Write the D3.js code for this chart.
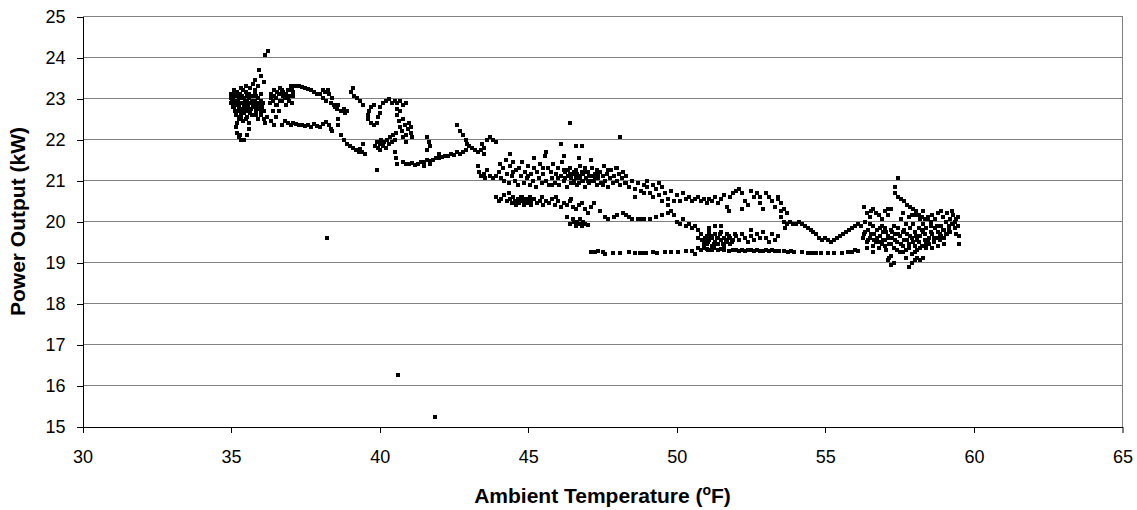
<!DOCTYPE html>
<html><head><meta charset="utf-8">
<script src="https://cdn.jsdelivr.net/npm/d3@7"></script>
<style>body{margin:0;background:#fff;} text{font-family:"Liberation Sans",Arial,sans-serif;}</style>
</head><body><svg id="c" width="1137" height="510"></svg>
<script>
const xTickValues=[30,35,40,45,50,55,60,65];
const yTickValues=[15,16,17,18,19,20,21,22,23,24,25];
const xTitle="Ambient Temperature (";
const yTitle="Power Output (kW)";

const clusterA=[[35.0,23.0],[35.0,22.9],[35.05,23.1],[35.1,22.8],[35.1,23.05],[35.15,22.95],[35.2,23.15],[35.2,22.85],[35.25,23.0],[35.3,22.7],[35.3,23.1],[35.35,22.9],[35.4,23.2],[35.4,22.75],[35.45,23.0],[35.5,22.85],[35.5,23.15],[35.55,22.95],[35.6,23.1],[35.6,22.7],[35.65,22.9],[35.7,23.05],[35.7,22.6],[35.75,22.8],[35.8,22.95],[35.8,23.2],[35.85,22.7],[35.9,22.9],[35.9,22.5],[35.95,22.75],[36.0,22.95],[36.0,22.6],[36.05,22.8],[35.15,22.6],[35.2,22.7],[35.05,22.8],[35.3,22.55],[35.45,22.65],[35.55,22.55],[35.0,23.1],[35.1,23.2],[35.35,23.25],[35.5,23.3],[35.65,23.25],[35.75,23.35],[35.85,23.05],[36.1,22.7],[36.1,22.5],[36.15,22.4],[36.2,22.55]];
const clusterAExtra=[[35.02,22.95],[35.08,23.0],[35.12,22.9],[35.18,23.05],[35.22,22.95],[35.28,22.85],[35.32,23.0],[35.38,23.05],[35.42,22.9],[35.48,22.95],[35.52,23.05],[35.58,22.8],[35.62,23.0],[35.68,22.75],[35.72,22.95],[35.78,22.85],[35.82,23.1],[35.88,22.8],[35.92,23.0],[35.98,22.85],[36.02,23.1],[36.08,22.9],[35.25,22.75],[35.45,22.8],[35.65,22.65],[35.85,22.6],[36.0,22.7],[35.12,22.7],[35.35,22.65],[35.55,22.7]];
const loopA=[[35.2,22.4],[35.25,22.5],[35.35,22.55],[35.5,22.5],[35.6,22.4],[35.6,22.25],[35.55,22.1],[35.45,22.0],[35.35,22.0],[35.25,22.05],[35.2,22.15],[35.15,22.3],[35.4,22.45],[35.3,22.1]];
const risingA=[[35.9,23.3],[36.0,23.55],[35.95,23.7],[36.1,23.4],[36.15,24.05],[36.25,24.15],[35.8,23.45]];
const clusterB=[[36.3,22.9],[36.35,23.1],[36.4,22.95],[36.45,23.2],[36.5,23.0],[36.55,22.85],[36.6,23.1],[36.65,23.25],[36.7,22.95],[36.75,23.15],[36.8,23.0],[36.85,22.85],[36.9,23.2],[36.95,23.05],[37.0,23.3],[37.05,22.9],[37.1,23.15],[37.15,23.3],[36.4,22.7],[36.5,22.55],[36.35,22.45],[36.6,22.7],[36.45,22.35],[36.35,23.0],[36.45,23.05],[36.55,23.15],[36.65,22.95],[36.75,23.05],[36.85,23.1],[36.95,22.95],[37.05,23.2],[36.5,22.85],[36.7,23.2],[36.9,23.0],[37.1,23.05]];
const upperBand=[[37.2,23.3],[37.3,23.3],[37.4,23.28],[37.5,23.25],[37.6,23.22],[37.7,23.2],[37.8,23.15],[37.9,23.1],[38.0,23.1],[38.1,23.0],[38.15,23.15],[38.2,22.95],[38.3,23.1],[38.35,22.9],[38.4,23.0],[38.45,22.85],[38.5,22.8],[38.55,22.75],[38.6,22.85],[38.7,22.7],[38.8,22.75],[38.85,22.65],[38.9,22.7],[38.25,23.2],[38.1,23.2]];
const lowerBand=[[36.7,22.35],[36.8,22.45],[36.9,22.4],[37.0,22.35],[37.1,22.4],[37.2,22.38],[37.3,22.35],[37.4,22.35],[37.5,22.32],[37.6,22.35],[37.7,22.3],[37.8,22.38],[37.9,22.33],[38.0,22.3],[38.1,22.38],[38.2,22.42],[38.3,22.35],[38.35,22.25],[38.4,22.2],[38.6,22.5],[38.6,22.35]];
const tailB=[[38.7,22.1],[38.8,22.0],[38.9,21.9],[39.0,21.85],[39.1,21.8],[39.2,21.75],[39.3,21.7],[39.4,21.7],[39.5,21.65],[39.35,21.78],[39.45,21.9]];
const clusterC=[[39.05,23.15],[39.1,23.25],[39.15,23.05],[39.25,23.0],[39.35,22.95],[39.45,22.85],[39.6,22.5],[39.65,22.7],[39.7,22.8],[39.8,22.85],[39.7,22.4],[39.8,22.35],[39.9,22.4],[39.95,22.55],[40.0,22.65],[39.6,22.6],[40.0,22.8],[40.1,22.9],[40.2,22.95],[40.3,22.98],[40.4,22.9],[40.5,22.95],[40.6,22.9],[40.7,22.95],[40.8,22.85],[40.9,22.9],[40.6,22.75],[40.7,22.7]];
const verticalC=[[40.6,22.6],[40.65,22.45],[40.7,22.3],[40.75,22.2],[40.8,22.5],[40.85,22.35],[40.9,22.1],[40.95,22.25],[41.0,22.4],[41.05,22.15],[41.1,22.05],[40.8,22.05],[40.9,21.95],[41.05,22.3]];
const clusterD=[[39.85,21.85],[39.9,21.95],[39.95,21.8],[40.0,21.9],[40.05,22.0],[40.1,21.85],[40.15,21.95],[40.2,21.8],[40.25,22.0],[40.3,21.9],[40.35,22.05],[40.4,21.95],[40.45,22.1],[40.5,22.0],[40.55,22.15],[40.0,21.75],[39.9,21.25],[40.5,21.7],[40.55,21.55],[40.6,21.4]];
const tailD=[[40.8,21.45],[40.9,21.4],[41.0,21.4],[41.1,21.42],[41.2,21.38],[41.3,21.4],[41.4,21.45],[41.5,21.45],[41.6,21.5],[41.7,21.48],[41.8,21.5],[41.9,21.55],[42.0,21.55],[42.1,21.58],[42.2,21.6],[42.3,21.6],[42.4,21.65],[42.5,21.62],[42.6,21.7],[42.7,21.65],[42.8,21.7],[42.9,21.75],[41.5,21.35],[41.7,21.4],[42.0,21.65],[41.6,22.05],[41.65,21.95],[41.7,21.85],[41.6,21.75]];
const clusterE=[[42.6,22.35],[42.7,22.2],[42.8,22.1],[42.9,22.0],[42.95,21.9],[43.0,21.85],[43.1,21.8],[43.2,21.75],[43.3,21.7],[43.4,21.75],[43.5,21.65],[43.6,22.0],[43.7,22.05],[43.8,22.0],[43.9,21.95],[43.45,21.9],[43.5,21.8],[43.3,21.35],[43.35,21.2],[43.4,21.1],[43.5,21.15],[43.6,21.25],[43.7,21.1],[43.8,21.05],[43.9,21.1],[43.55,21.05]];
const middleBand=[[44.0,21.2],[44.05,21.4],[44.1,21.05],[44.15,21.3],[44.2,21.0],[44.25,21.5],[44.3,21.15],[44.35,20.95],[44.4,21.35],[44.45,21.1],[44.5,21.45],[44.55,21.0],[44.6,21.25],[44.65,20.9],[44.7,21.3],[44.75,21.1],[44.8,21.45],[44.85,20.95],[44.9,21.2],[44.95,21.05],[45.0,21.35],[45.05,20.9],[45.1,21.15],[45.15,21.0],[45.2,21.3],[45.25,20.85],[45.3,21.2],[45.35,21.05],[45.4,21.4],[45.45,20.95],[45.5,21.15],[45.55,21.6],[45.6,21.0],[45.65,21.3],[45.7,20.9],[45.75,21.2],[45.8,21.05],[45.85,21.4],[45.9,20.95],[45.95,21.15],[46.0,21.3],[46.05,20.9],[46.1,21.1],[46.15,21.45],[46.2,21.0],[46.25,21.2],[46.3,20.85],[46.35,21.1],[46.4,21.3],[46.45,20.95],[46.5,21.15],[46.55,21.0],[46.6,21.25],[46.65,20.9],[46.7,21.1],[46.75,21.35],[46.8,21.0],[46.85,21.15],[46.9,20.85],[46.95,21.05],[47.0,21.2],[47.05,20.95],[47.1,21.1],[47.15,21.3],[47.2,21.0],[47.25,21.15],[47.3,20.9],[47.35,21.05],[47.4,21.2],[47.45,20.95],[47.5,21.1],[47.55,21.35],[47.6,21.0],[47.65,21.15],[47.7,20.85],[47.75,21.05],[47.8,21.25],[47.85,20.95],[47.9,21.1],[47.95,21.3],[48.0,21.0],[48.05,21.15],[48.1,20.9],[48.15,21.05],[48.2,21.2],[48.25,20.95],[48.3,21.1],[44.5,21.2],[45.0,21.1],[45.5,21.3],[46.0,21.05],[46.5,20.95],[46.6,21.05],[46.7,20.95],[47.0,21.0],[47.5,20.9],[46.2,21.25],[46.8,21.2],[47.3,21.25],[45.8,20.9],[46.4,21.15],[46.9,21.3],[47.7,21.25]];
const middleExtra=[[46.45,21.05],[46.55,21.2],[46.65,21.15],[46.75,21.05],[46.85,21.0],[46.95,21.2],[47.05,21.1],[47.15,21.0],[47.25,21.05],[47.35,21.15],[46.35,21.25],[46.25,21.05],[44.6,20.5],[44.7,20.55],[44.8,20.6],[44.9,20.45],[45.0,20.55],[45.1,20.5]];
const aboveMiddle=[[44.4,21.65],[45.2,21.55],[45.6,21.7],[46.1,21.9],[46.4,22.4],[46.6,21.85],[46.8,21.85],[46.2,21.6],[46.7,21.55],[48.1,22.05],[47.1,21.5],[48.0,21.3]];
const lowerMiddle=[[43.9,20.6],[44.0,20.5],[44.1,20.55],[44.2,20.65],[44.3,20.5],[44.35,20.7],[44.4,20.55],[44.45,20.45],[44.5,20.6],[44.55,20.5],[44.6,20.4],[44.65,20.55],[44.7,20.45],[44.75,20.6],[44.8,20.5],[44.85,20.4],[44.9,20.55],[44.95,20.45],[45.0,20.5],[45.1,20.4],[45.2,20.55],[45.3,20.45],[45.4,20.5],[45.5,20.4],[45.6,20.5],[45.7,20.45],[45.8,20.55],[45.9,20.4],[46.0,20.5],[46.1,20.35],[46.2,20.45],[46.3,20.4],[46.4,20.5],[46.5,20.35],[46.6,20.3],[46.7,20.4],[46.8,20.45],[46.9,20.3],[45.05,20.6],[45.45,20.6],[45.95,20.6],[46.45,20.55]];
const clusterF=[[46.3,20.1],[46.4,19.95],[46.5,20.05],[46.6,19.9],[46.65,20.0],[46.7,19.95],[46.75,20.05],[46.8,19.9],[46.85,20.0],[46.9,19.95],[47.0,19.92],[46.55,20.0]];
const lowerArc=[[47.0,20.2],[47.1,20.35],[47.2,20.45],[47.4,20.25],[47.6,20.1],[47.7,20.05],[47.9,20.1],[48.0,20.15],[48.2,20.2],[48.3,20.15],[48.4,20.1],[48.5,20.05],[48.7,20.05],[48.8,20.05],[48.9,20.05],[49.1,20.05],[49.3,20.1],[49.5,20.15],[49.7,20.2],[49.8,20.25]];
const upperG=[[48.3,20.95],[48.4,20.85],[48.5,21.0],[48.6,20.8],[48.7,20.95],[48.8,20.75],[48.9,20.9],[49.0,20.85],[49.1,20.7],[49.2,20.9],[49.3,20.8],[49.4,20.65],[49.5,20.85],[49.6,20.7],[49.7,20.55],[49.8,20.75],[49.9,20.5],[48.6,20.6],[48.9,20.7],[49.2,20.6],[49.5,20.5],[49.7,20.4],[49.0,21.0],[49.4,20.95]];
const bandH=[[50.0,20.65],[50.1,20.5],[50.2,20.7],[50.3,20.55],[50.4,20.6],[50.5,20.5],[50.6,20.55],[50.7,20.6],[50.8,20.5],[50.9,20.55],[51.0,20.45],[51.1,20.55],[51.2,20.5],[51.3,20.6],[51.4,20.45],[51.5,20.55],[51.6,20.65],[51.7,20.35],[51.75,20.25],[51.8,20.6],[51.9,20.7],[52.0,20.75],[52.1,20.8],[52.2,20.7],[52.3,20.5],[52.4,20.4],[52.5,20.75],[52.6,20.6],[52.7,20.7],[52.8,20.45],[52.9,20.3],[53.0,20.7],[53.1,20.6],[53.2,20.5],[53.3,20.35],[53.4,20.55],[53.5,20.25],[52.2,20.3],[52.8,20.6],[53.5,20.45],[53.6,20.3],[53.7,20.2],[53.4,20.6]];
const bandI=[[49.9,20.15],[50.0,20.0],[50.1,19.95],[50.2,20.05],[50.3,19.9],[50.4,19.95],[50.5,19.85],[50.6,19.9],[50.7,19.8]];
const clusterJ=[[50.7,19.6],[50.8,19.7],[50.9,19.5],[51.0,19.65],[51.0,19.45],[51.1,19.55],[51.1,19.75],[51.2,19.4],[51.2,19.6],[51.3,19.5],[51.3,19.7],[51.4,19.45],[51.4,19.6],[51.5,19.55],[51.5,19.75],[51.6,19.4],[51.6,19.6],[51.7,19.5],[51.7,19.7],[51.8,19.45],[51.8,19.6],[51.9,19.55],[51.1,19.85],[51.3,19.9],[51.5,19.9],[51.2,19.3],[50.9,19.35],[51.05,19.3],[52.0,19.65],[52.1,19.55],[52.2,19.7],[52.3,19.6],[52.4,19.5],[52.5,19.65],[52.6,19.55],[52.7,19.7],[52.8,19.6],[52.9,19.75],[53.0,19.6],[53.1,19.5],[53.2,19.7],[53.3,19.55],[53.4,19.65],[52.5,19.8],[50.95,19.6],[51.15,19.65],[51.25,19.45],[51.35,19.6],[51.45,19.7],[51.55,19.45],[51.65,19.55],[51.75,19.65],[51.85,19.5],[51.05,19.5],[50.85,19.55],[51.95,19.7]];
const bottomLine=[[47.1,19.25],[47.25,19.25],[47.35,19.27],[47.5,19.25],[47.6,19.2],[47.85,19.22],[48.1,19.22],[48.4,19.25],[48.6,19.22],[48.75,19.24],[48.85,19.24],[48.95,19.24],[49.2,19.25],[49.35,19.22],[49.6,19.25],[49.8,19.25],[50.05,19.25],[50.3,19.27],[50.5,19.28],[50.6,19.2],[50.7,19.35],[50.8,19.3],[50.9,19.4],[51.0,19.32],[51.1,19.3],[51.25,19.35],[51.4,19.3],[51.5,19.32],[51.6,19.3],[51.75,19.28],[51.9,19.3],[52.0,19.3],[52.1,19.28],[52.2,19.3],[52.3,19.28],[52.4,19.3],[52.5,19.3],[52.6,19.28],[52.7,19.3],[52.8,19.28],[52.9,19.28],[53.0,19.3],[53.1,19.28],[53.2,19.3],[53.3,19.27],[53.45,19.27],[53.6,19.28],[53.75,19.25],[53.85,19.27],[53.95,19.25],[54.2,19.25],[54.4,19.22],[54.55,19.22],[54.7,19.22],[54.85,19.22],[55.1,19.22],[55.3,19.22],[55.55,19.22],[55.75,19.25],[55.9,19.25],[56.0,19.3],[56.1,19.28]];
const descK=[[53.6,20.0],[53.7,19.95],[53.8,20.0],[53.9,19.95],[54.0,19.95],[54.1,20.0],[54.2,19.95],[54.3,19.9],[54.4,19.85],[54.5,19.8],[54.6,19.75],[54.7,19.7],[54.8,19.6],[54.9,19.55],[55.0,19.6],[55.1,19.55],[55.2,19.5],[55.3,19.55],[55.4,19.6],[55.5,19.65],[53.5,20.1],[53.65,19.85],[55.6,19.7],[55.7,19.75],[55.8,19.8],[55.9,19.85],[56.0,19.9],[56.1,19.95]];
const topL=[[57.45,21.05],[57.35,20.85],[57.35,20.7],[57.45,20.6],[57.55,20.55],[57.65,20.5],[57.75,20.4],[57.85,20.35],[57.95,20.3],[58.05,20.25],[58.15,20.15],[58.25,20.1],[58.35,20.05],[58.45,20.05],[58.55,20.0]];
const clusterL=[[56.2,19.9],[56.3,19.7],[56.35,20.0],[56.4,19.5],[56.45,19.8],[56.5,19.6],[56.55,20.25],[56.6,19.4],[56.6,19.9],[56.65,19.7],[56.7,20.2],[56.7,19.5],[56.75,19.8],[56.8,19.35],[56.85,19.65],[56.9,19.9],[56.9,19.45],[56.95,19.75],[57.0,19.55],[57.0,19.85],[57.05,19.3],[57.1,19.65],[57.1,20.15],[57.15,19.45],[57.2,19.8],[57.2,19.15],[57.25,19.6],[57.3,19.9],[57.3,19.35],[57.35,19.7],[57.4,19.5],[57.45,19.85],[57.5,19.25],[57.5,19.65],[57.55,20.05],[57.6,19.4],[57.6,19.75],[57.65,19.55],[57.7,19.95],[57.7,19.3],[57.75,19.7],[57.8,19.45],[57.8,20.1],[57.85,19.85],[57.9,19.6],[57.9,19.2],[57.95,19.95],[58.0,19.4],[58.0,19.75],[58.05,20.15],[58.1,19.55],[58.1,19.3],[58.15,19.85],[58.2,19.65],[58.2,20.05],[58.25,19.4],[58.3,19.75],[58.3,19.95],[58.35,19.55],[58.4,19.35],[58.4,19.85],[58.45,20.1],[58.5,19.6],[58.5,19.45],[58.55,19.9],[58.6,19.7],[58.6,20.15],[58.65,19.5],[58.7,19.85],[58.7,20.05],[58.75,19.6],[58.8,19.75],[58.8,20.2],[58.85,19.55],[58.9,19.9],[58.9,19.65],[58.95,20.1],[59.0,19.8],[59.0,19.6],[59.05,20.0],[59.1,19.7],[59.1,20.2],[59.15,19.9],[59.2,20.05],[59.2,19.75],[59.25,20.25],[59.3,19.95],[59.3,20.15],[59.35,19.85],[59.4,20.05],[59.45,19.9],[59.5,19.65],[59.5,19.45],[57.1,19.05],[57.2,18.95],[57.3,19.0],[57.15,19.1],[57.8,18.9],[57.9,19.0],[58.0,19.05],[58.1,19.1],[58.2,19.05],[58.3,19.1],[57.7,19.1],[56.3,20.35],[56.4,20.2],[56.5,20.1],[56.6,20.3],[56.8,20.15],[57.0,20.25],[57.2,20.3],[56.9,20.05],[57.1,20.3]];
const clusterLExtra=[[56.25,19.6],[56.35,19.75],[56.45,19.55],[56.55,19.7],[56.65,19.55],[56.75,19.6],[56.85,19.85],[56.95,19.55],[57.05,19.75],[57.15,19.6],[57.25,19.75],[57.35,19.55],[57.45,19.7],[57.55,19.45],[57.65,19.8],[57.75,19.55],[57.85,19.65],[57.95,19.5],[58.05,19.65],[58.15,19.5],[58.25,19.8],[58.35,19.7],[58.45,19.5],[58.55,19.75],[58.65,19.6],[58.75,19.9],[58.85,19.7],[58.95,19.8],[59.05,19.7],[59.15,19.8],[59.25,19.95],[59.35,20.0],[59.45,20.1],[56.4,19.35],[56.6,19.25],[56.8,19.5],[57.0,19.4],[57.2,19.45],[57.4,19.3],[57.6,19.25],[57.8,19.35],[58.0,19.25],[58.2,19.35],[58.4,19.45],[58.6,19.35],[58.8,19.4],[59.0,19.45],[56.5,19.95],[57.6,20.2],[57.9,20.15],[58.3,20.25],[58.9,20.25],[59.4,19.7]];
const outliers=[[38.23,19.6],[40.62,16.26],[41.86,15.22]];

const points=[].concat(clusterA,clusterAExtra,loopA,risingA,clusterB,upperBand,lowerBand,tailB,clusterC,verticalC,clusterD,tailD,clusterE,middleBand,middleExtra,aboveMiddle,lowerMiddle,clusterF,lowerArc,upperG,bandH,bandI,clusterJ,bottomLine,descK,topL,clusterL,clusterLExtra,outliers);

const svg=d3.select("#c");
const L=82.5,R=1122.5,T=16.5,B=426.5;
const x=d3.scaleLinear().domain([30,65]).range([L,R]);
const y=d3.scaleLinear().domain([15,25]).range([B,T]);

svg.append("g").selectAll("line").data(yTickValues.filter(v=>v>15)).join("line")
  .attr("x1",L).attr("x2",R).attr("y1",d=>y(d)).attr("y2",d=>y(d))
  .attr("stroke","#808080").attr("stroke-width",1).attr("shape-rendering","crispEdges");
svg.append("line").attr("x1",R).attr("x2",R).attr("y1",T).attr("y2",B+6)
  .attr("stroke","#808080").attr("shape-rendering","crispEdges");

const yAxis=svg.append("g").attr("transform",`translate(${L},0)`)
  .call(d3.axisLeft(y).tickValues(yTickValues).tickSize(6).tickPadding(11).tickSizeOuter(0).tickFormat(d3.format("d")));
const xAxis=svg.append("g").attr("transform",`translate(0,${B})`)
  .call(d3.axisBottom(x).tickValues(xTickValues).tickSize(6).tickPadding(18).tickSizeOuter(0).tickFormat(d3.format("d")));
[yAxis,xAxis].forEach(a=>{
  a.selectAll("path,line").attr("stroke","#000").attr("stroke-width",1).attr("shape-rendering","crispEdges");
  a.selectAll("text").attr("fill","#000").style("font-size","18px").style("font-family","'Liberation Sans',Arial,sans-serif");
});
xAxis.selectAll(".tick").filter(d=>d===65).select("line").attr("stroke","#808080");

svg.append("g").selectAll("rect").data(points).join("rect")
  .attr("x",d=>Math.round(x(d[0]))-2).attr("y",d=>Math.round(y(d[1]))-2)
  .attr("width",4).attr("height",4).attr("fill","#000").attr("shape-rendering","crispEdges");

const xt=svg.append("text").attr("x",(L+R)/2).attr("y",503).attr("text-anchor","middle")
  .style("font-size","21px").style("font-weight","bold");
xt.append("tspan").text(xTitle);
xt.append("tspan").attr("dy",-8).style("font-size","14px").text("o");
xt.append("tspan").attr("dy",8).text("F)");
svg.append("text").attr("transform",`translate(25,${(T+B)/2}) rotate(-90)`).attr("text-anchor","middle")
  .style("font-size","21px").style("font-weight","bold").text(yTitle);
</script></body></html>
